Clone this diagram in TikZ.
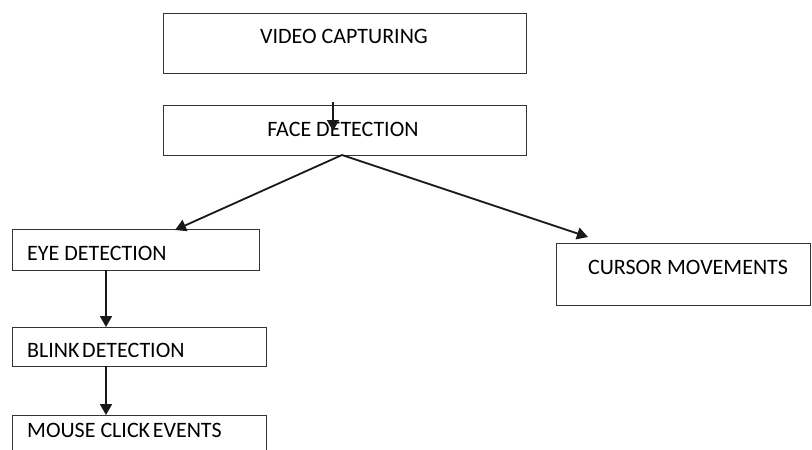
\documentclass[tikz,border=0pt]{standalone}
\usepackage{fontspec}
\setmainfont{Carlito}
\usetikzlibrary{arrows.meta}
\begin{document}
\begin{tikzpicture}[x=1pt,y=-1pt,
  box/.style={draw=black!80,line width=1.2pt,inner sep=0pt,anchor=north west},
  lbl/.style={inner sep=0pt,font=\fontsize{22}{26}\selectfont,text=black},
  arr/.style={draw=black!90,line width=1.8pt,-{Triangle[length=11pt,width=12pt]}}]
\useasboundingbox (0,0) rectangle (812,450);
\node[box,minimum width=363pt,minimum height=60pt] (vc) at (163,13) {};
\node[box,minimum width=363pt,minimum height=50pt] (fd) at (163,105) {};
\node[box,minimum width=247pt,minimum height=41pt] (ed) at (12,229) {};
\node[box,minimum width=254pt,minimum height=39pt] (bd) at (12,327) {};
\node[box,minimum width=254pt,minimum height=50pt] (mc) at (12,415) {};
\node[box,minimum width=254pt,minimum height=62pt] (cm) at (556,243) {};
\node[lbl,anchor=center] (vct) at (344,36) {VIDEO CAPTURING};
\node[lbl,anchor=center] (fdt) at (343,129) {FACE DETECTION};
\node[lbl,anchor=west] (edt) at (27,253) {EYE DETECTION};
\node[lbl,anchor=west] (bdt) at (27,350) {BLINK\hspace{0.12em}DETECTION};
\node[lbl,anchor=west] (mct) at (27,430) {MOUSE CLICK\hspace{0.12em}EVENTS};
\node[lbl,anchor=center] (cmt) at (688,267) {CURSOR MOVEMENTS};
\coordinate (a1s) at (333,102);
\coordinate (a1e) at (333,131);
\coordinate (fork) at (342,155);
\coordinate (edin) at (175,230);
\coordinate (cmin) at (588,237);
\coordinate (edout) at (106,270);
\coordinate (bdin) at (106,327);
\coordinate (bdout) at (106,366);
\coordinate (mcin) at (106,415);
\draw[arr] (a1s) -- (a1e);
\draw[arr] (fork) -- (edin);
\draw[arr] (fork) -- (cmin);
\draw[arr] (edout) -- (bdin);
\draw[arr] (bdout) -- (mcin);
\end{tikzpicture}
\end{document}
